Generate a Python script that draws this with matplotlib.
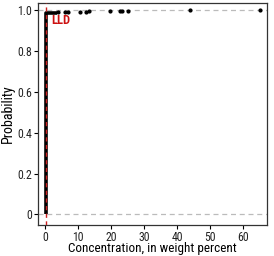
import matplotlib
matplotlib.use("Agg")
import matplotlib.pyplot as plt

plt.rcParams['font.family'] = ['Roboto Condensed', 'Archivo Narrow', 'PT Sans Narrow',
                               'Fira Sans Condensed', 'Liberation Sans Narrow', 'DejaVu Sans']

# ECDF step near zero (values below/near detection limit)
step_x = [0.2, 0.2, 3.5]
step_y = [0.0, 0.985, 0.985]

# upper tail points
pt_x = [3.9, 6.0, 7.0, 10.6, 12.4, 13.3, 19.7, 22.7, 23.3, 25.2, 44.0, 65.0]
pt_y = [0.988, 0.989, 0.990, 0.991, 0.992, 0.993, 0.994, 0.995, 0.996, 0.997, 0.998, 0.999]

lld = 0.2

fig = plt.figure(figsize=(2.74, 2.56), dpi=100)
ax = fig.add_axes([0.139, 0.123, 0.836, 0.865])

ax.axhline(0, color='#bbbbbb', ls='--', lw=0.9, dashes=(4, 3))
ax.axhline(1, color='#bbbbbb', ls='--', lw=0.9, dashes=(4, 3))

ax.plot(step_x, step_y, color='black', lw=2.6, solid_capstyle='butt')
ax.plot(pt_x, pt_y, 'o', color='black', ms=2.0)
ax.axvline(lld, color='#cc2222', ls='--', lw=1.0, dashes=(3, 2.5), zorder=5)

ax.text(2.0, 0.95, 'LLD', color='#cc1111', fontsize=9, fontweight='bold',
        va='center', ha='left')

ax.set_xlim(-2.1, 67.3)
ax.set_ylim(-0.049, 1.034)
ax.set_xticks([0, 10, 20, 30, 40, 50, 60])
ax.set_yticks([0, 0.2, 0.4, 0.6, 0.8, 1.0])
ax.set_yticklabels(['0', '0.2', '0.4', '0.6', '0.8', '1.0'])
ax.tick_params(labelsize=8.5, length=3, width=0.8, pad=1.5, labelcolor='#222222')
ax.set_xlabel('Concentration, in weight percent', fontsize=9.5, labelpad=-1)
ax.set_ylabel('Probability', fontsize=10, labelpad=1.5)
for s in ax.spines.values():
    s.set_linewidth(0.9)
    s.set_color('#333333')

fig.savefig('out.png', dpi=100)
